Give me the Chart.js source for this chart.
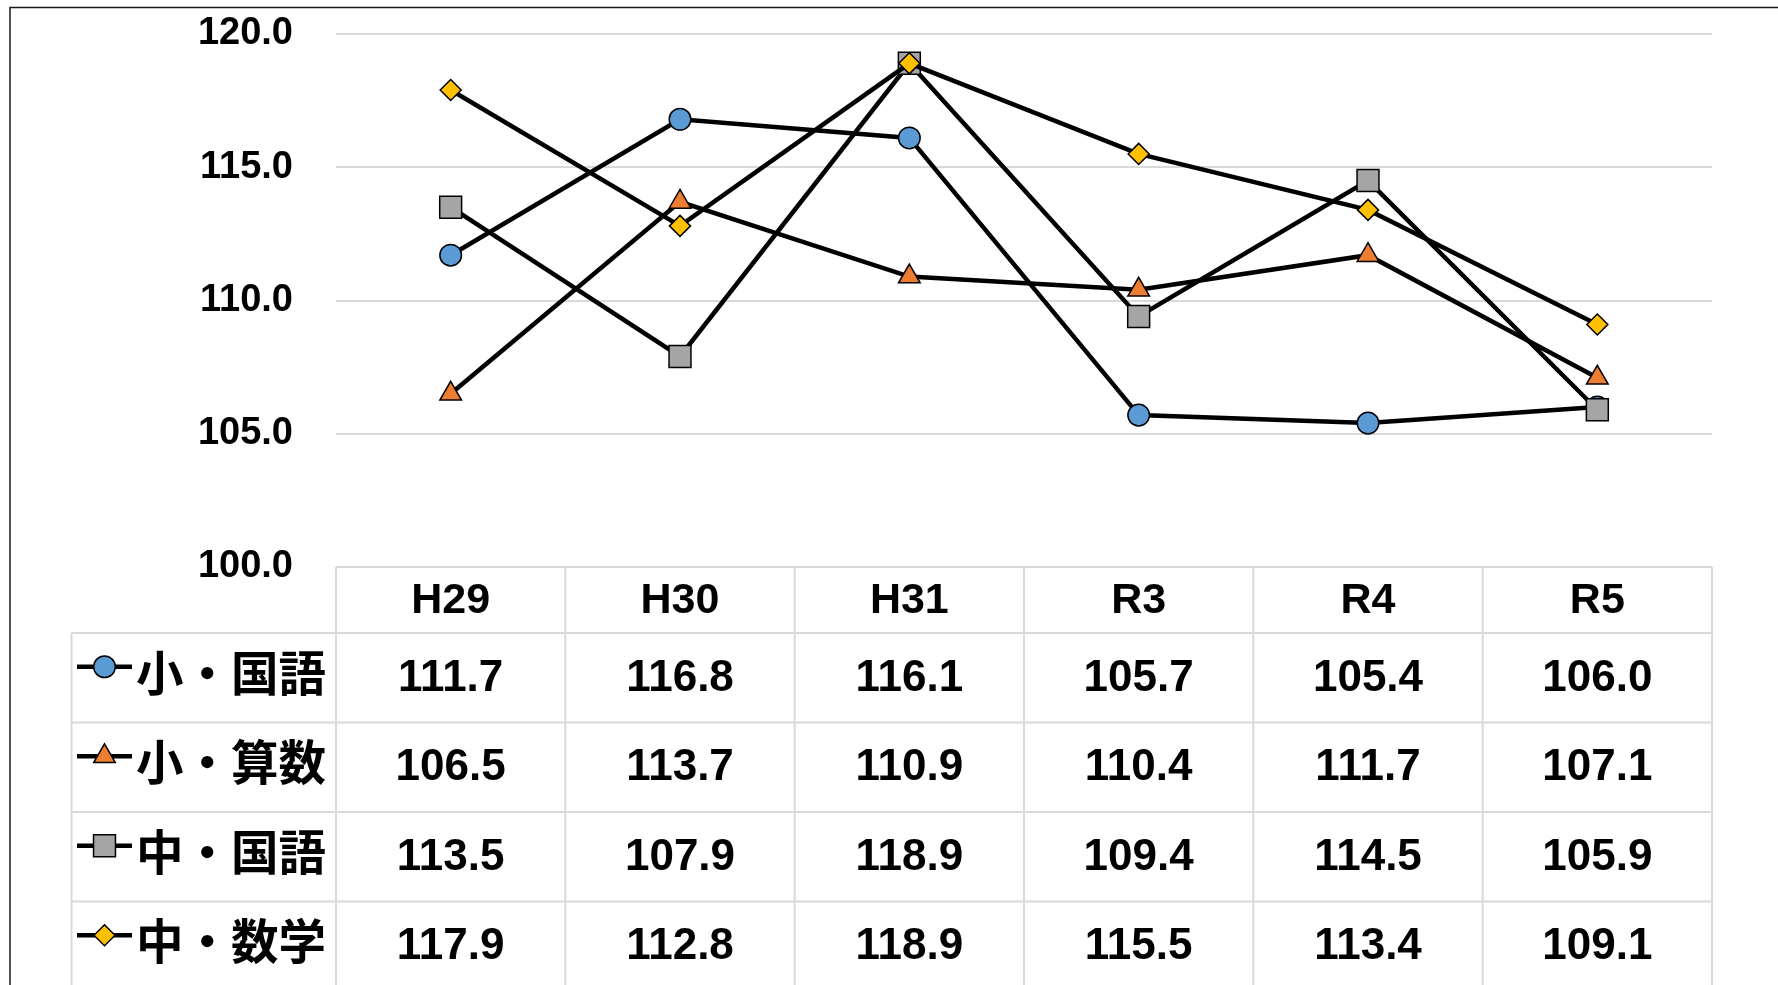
<!DOCTYPE html>
<html>
<head>
<meta charset="utf-8">
<script src="https://cdn.jsdelivr.net/npm/chart.js"></script>
<style>
  html, body { margin: 0; padding: 0; background: #fff; }
  #wrap { position: relative; width: 1778px; height: 985px; }
</style>
</head>
<body>
<div id="wrap"><canvas id="chart"></canvas></div>
<script>
// data
const years = ["H29", "H30", "H31", "R3", "R4", "R5"];
const seriesNames = ["小・国語", "小・算数", "中・国語", "中・数学"];
const shoKokugo = [111.7, 116.8, 116.1, 105.7, 105.4, 106.0];
const shoSansu = [106.5, 113.7, 110.9, 110.4, 111.7, 107.1];
const chuKokugo = [113.5, 107.9, 118.9, 109.4, 114.5, 105.9];
const chuSugaku = [117.9, 112.8, 118.9, 115.5, 113.4, 109.1];
const yTicks = [100, 105, 110, 115, 120];

const seriesValues = [shoKokugo, shoSansu, chuKokugo, chuSugaku];
const markerColors = ["#5B9BD5", "#ED7D31", "#A5A5A5", "#FFC000"];
const markerStyles = ["circle", "triangle", "rect", "rectRot"];
const markerRadius = [10.8, 12.5, 15.5, 10.5];

const NUM_FONT = '"Liberation Sans", Arial, sans-serif';
const JP_FONT = '"Noto Sans CJK JP", "Noto Sans CJK SC", sans-serif';

// draws the outer frame and the data table under the plot
const dataTable = {
  id: "dataTable",
  beforeDraw(chart) {
    const ctx = chart.ctx;
    ctx.save();
    ctx.fillStyle = "#fff";
    ctx.fillRect(0, 0, chart.width, chart.height);
    ctx.strokeStyle = "#1a1a1a";
    ctx.lineWidth = 1.5;
    ctx.strokeRect(10, 7.5, chart.width + 50, chart.height + 50);
    ctx.restore();
  },
  afterDraw(chart) {
    const ctx = chart.ctx;
    const xs = chart.scales.x;
    const area = chart.chartArea;
    const step = xs.getPixelForValue(1) - xs.getPixelForValue(0);
    const left = xs.getPixelForValue(0) - step / 2;
    const right = xs.getPixelForValue(years.length - 1) + step / 2;
    const top = area.bottom;
    const headH = 66;
    const rowH = 89.5;
    const legendLeft = 71.5;
    const rowTop = top + headH;
    const bottom = rowTop + seriesNames.length * rowH;

    ctx.save();
    ctx.strokeStyle = "#d9d9d9";
    ctx.lineWidth = 2;
    ctx.beginPath();
    ctx.moveTo(left, top);
    ctx.lineTo(right, top);
    for (let r = 0; r <= seriesNames.length; r++) {
      const y = rowTop + r * rowH;
      ctx.moveTo(legendLeft, y);
      ctx.lineTo(right, y);
    }
    for (let i = 0; i <= years.length; i++) {
      const px = left + i * step;
      ctx.moveTo(px, top);
      ctx.lineTo(px, bottom);
    }
    ctx.moveTo(legendLeft, rowTop);
    ctx.lineTo(legendLeft, bottom);
    ctx.stroke();

    // header: category labels
    ctx.fillStyle = "#000";
    ctx.textAlign = "center";
    ctx.textBaseline = "middle";
    ctx.font = "bold 43px " + NUM_FONT;
    years.forEach((yr, i) => {
      ctx.fillText(yr, xs.getPixelForValue(i), top + headH / 2 + 1);
    });

    // value cells
    ctx.font = "bold 44px " + NUM_FONT;
    chart.data.datasets.forEach((ds, r) => {
      const cy = rowTop + r * rowH + rowH / 2 + 1;
      ds.data.forEach((v, i) => {
        ctx.fillText(v.toFixed(1), xs.getPixelForValue(i), cy);
      });
    });

    // legend keys + names
    chart.data.datasets.forEach((ds, r) => {
      const cy = rowTop + r * rowH + rowH / 2;
      const ky = cy - 11;
      ctx.strokeStyle = "#000";
      ctx.lineWidth = 4.5;
      ctx.beginPath();
      ctx.moveTo(77, ky);
      ctx.lineTo(132, ky);
      ctx.stroke();
      ctx.fillStyle = ds.pointBackgroundColor;
      ctx.strokeStyle = "#000";
      ctx.lineWidth = 1.5;
      Chart.helpers.drawPoint(ctx, {
        pointStyle: ds.pointStyle,
        radius: ds.pointRadius,
        rotation: 0,
        borderWidth: 1.5
      }, 104.5, ky);
      ctx.fillStyle = "#000";
      ctx.textAlign = "left";
      ctx.font = "bold 47.5px " + JP_FONT;
      ctx.fillText(ds.label, 136, cy - 5);
    });
    ctx.restore();
  }
};

const datasets = seriesNames.map((name, i) => ({
  label: name,
  data: seriesValues[i],
  borderColor: "#000",
  borderWidth: 4.5,
  tension: 0,
  fill: false,
  pointStyle: markerStyles[i],
  pointRadius: markerRadius[i],
  pointHoverRadius: markerRadius[i],
  pointBackgroundColor: markerColors[i],
  pointBorderColor: "#000",
  pointBorderWidth: 1.5,
  order: seriesNames.length - 1 - i // later series on top, like Excel
}));

new Chart(document.getElementById("chart"), {
  type: "line",
  data: { labels: years, datasets },
  options: {
    responsive: true,
    maintainAspectRatio: false,
    animation: false,
    devicePixelRatio: 1,
    layout: { padding: { top: 34, right: 66, bottom: 418, left: 0 } },
    plugins: {
      legend: { display: false },
      tooltip: { enabled: false }
    },
    scales: {
      x: {
        type: "category",
        offset: true,
        display: false
      },
      y: {
        min: 100,
        max: 120,
        afterBuildTicks(scale) {
          scale.ticks = yTicks.map((v) => ({ value: v }));
        },
        afterFit(scale) {
          scale.width = 336;
        },
        ticks: {
          callback: (v) => Number(v).toFixed(1),
          color: "#000",
          padding: 0,
          font: { family: NUM_FONT, size: 38, weight: "bold" }
        },
        grid: {
          color: "#d9d9d9",
          lineWidth: 2,
          drawTicks: true,
          tickLength: 43,
          tickColor: "rgba(0,0,0,0)"
        },
        border: { display: false }
      }
    }
  },
  plugins: [dataTable]
});
</script>
</body>
</html>
